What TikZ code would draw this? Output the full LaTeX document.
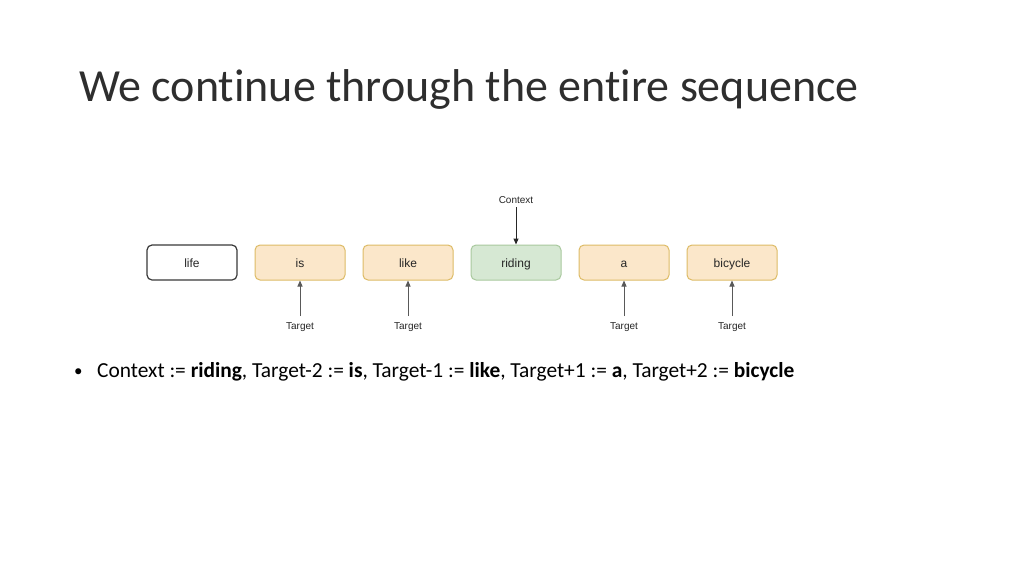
\documentclass[tikz,border=0pt]{standalone}
\usepackage{fontspec}
\setmainfont{Carlito}[Ligatures={NoCommon}]
\newfontfamily\boxfont{Liberation Sans}
\usetikzlibrary{arrows.meta}
\definecolor{yfill}{HTML}{FBE7CA}
\definecolor{ydraw}{HTML}{DDBB66}
\definecolor{gfill}{HTML}{D6E8D3}
\definecolor{gdraw}{HTML}{A9C99E}
\definecolor{wdraw}{HTML}{3A3A3A}
\definecolor{titlec}{HTML}{2E2E2E}
\begin{document}
\begin{tikzpicture}[x=1pt,y=-1pt,
  word/.style={rounded corners=5pt, minimum width=90pt, minimum height=35pt, inner sep=0pt, line width=1pt,
    text height=12pt, text depth=2pt,
    font=\boxfont\fontsize{12}{14}\selectfont, text=black!85},
  tgt/.style={word, fill=yfill, draw=ydraw},
  ctx/.style={word, fill=gfill, draw=gdraw},
  plain/.style={word, fill=white, draw=wdraw, line width=1.2pt},
  lbl/.style={font=\boxfont\fontsize{10}{12}\selectfont, inner sep=0pt, text=black!85},
  arr/.style={-{Triangle[length=6pt,width=5pt]}, line width=1pt, draw=black!65},
  carr/.style={-{Triangle[length=6pt,width=5pt]}, line width=1pt, draw=black!85}]
\useasboundingbox (0,0) rectangle (1024,576);
\fill[white] (0,0) rectangle (1024,576);
\node[anchor=base west, inner sep=0pt, text=titlec, font=\fontsize{46}{54}\selectfont] (title) at (79,101) {We continue through the entire sequence};

\node[plain] (w1) at (192,262.5) {life};
\node[tgt] (w2) at (300,262.5) {is};
\node[tgt] (w3) at (408,262.5) {like};
\node[ctx] (w4) at (516,262.5) {riding};
\node[tgt] (w5) at (624,262.5) {a};
\node[tgt] (w6) at (732,262.5) {bicycle};

\node[lbl] (c) at (516,200) {Context};
\draw[carr] (516,207) coordinate (cs) -- (w4.north);

\foreach \i/\x in {2/300,3/408,5/624,6/732} {
  \node[lbl] (t\i) at (\x,327.5) {Target};
  \draw[arr] (\x,316) coordinate (ts\i) -- (w\i.south);
}

\node[anchor=base west, inner sep=0pt, font=\fontsize{17}{20}\selectfont] (bul) at (74,376) {\textbullet};
\node[anchor=base west, inner sep=0pt, font=\fontsize{21.4}{25}\selectfont] (txt) at (97,377)
  {Context := \textbf{riding}, Target-2 := \textbf{is}, Target-1 := \textbf{like}, Target+1 := \textbf{a}, Target+2 := \textbf{bicycle}};
\end{tikzpicture}
\end{document}
